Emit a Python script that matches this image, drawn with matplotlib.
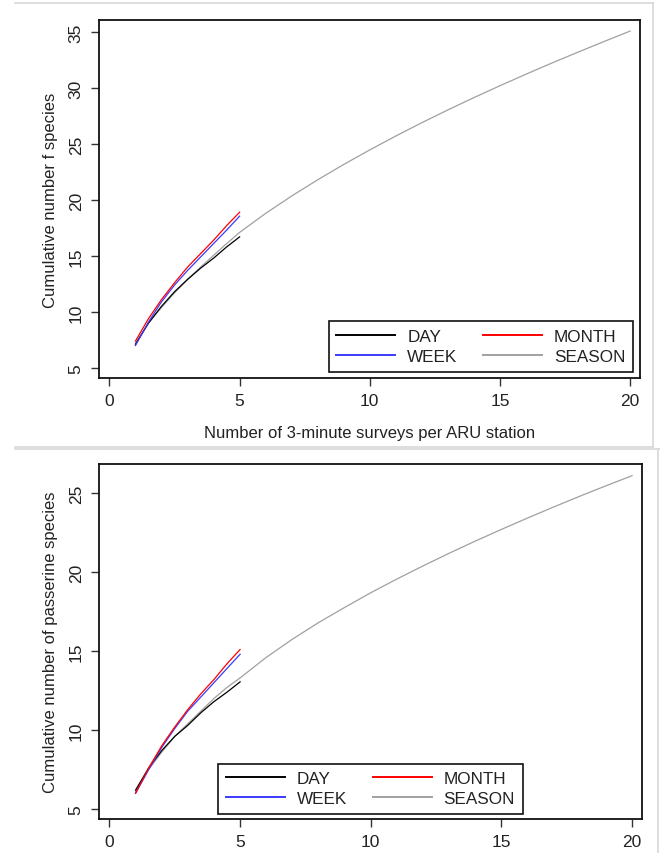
import matplotlib
matplotlib.use("Agg")
import matplotlib.pyplot as plt
from matplotlib.lines import Line2D

plt.rcParams['font.family'] = ['Liberation Sans', 'DejaVu Sans']

# ---------------- data ----------------
x_short = [1, 1.5, 2, 2.5, 3, 3.5, 4, 4.5, 5]
x_season = [1, 1.5, 2, 2.5, 3, 3.5, 4, 4.5, 5, 6, 7, 8, 9, 10, 11, 12, 13, 14,
            15, 16, 17, 18, 19, 20]

# Top panel: all species
top_day = [7.1, 9.0, 10.5, 11.8, 12.9, 13.9, 14.8, 15.8, 16.7]
top_week = [7.0, 9.1, 10.9, 12.4, 13.7, 14.9, 16.1, 17.3, 18.55]
top_month = [7.4, 9.4, 11.1, 12.6, 14.0, 15.2, 16.4, 17.7, 18.9]
top_season = [7.2, 9.0, 10.4, 11.7, 12.9, 14.0, 15.05, 16.1, 17.1, 18.8, 20.35,
              21.8, 23.17, 24.47, 25.71, 26.9, 28.04, 29.14, 30.2, 31.23,
              32.23, 33.2, 34.15, 35.08]

# Bottom panel: passerine species
bot_day = [6.2, 7.6, 8.7, 9.6, 10.3, 11.1, 11.8, 12.4, 13.05]
bot_week = [6.0, 7.5, 8.9, 10.1, 11.2, 12.1, 13.0, 13.9, 14.8]
bot_month = [6.0, 7.6, 9.0, 10.2, 11.3, 12.3, 13.2, 14.2, 15.1]
bot_season = [6.1, 7.5, 8.6, 9.6, 10.4, 11.2, 12.0, 12.7, 13.3, 14.6, 15.75,
              16.8, 17.76, 18.69, 19.56, 20.39, 21.19, 21.96, 22.7, 23.42,
              24.12, 24.8, 25.46, 26.1]

labels = ["DAY", "WEEK", "MONTH", "SEASON"]
colors = ["#000000", "#3a3aff", "#ff0000", "#a0a0a0"]
x_ticks = [0, 5, 10, 15, 20]
top_yticks = [5, 10, 15, 20, 25, 30, 35]
bot_yticks = [5, 10, 15, 20, 25]

W, H = 660, 854
fig = plt.figure(figsize=(W / 100, H / 100), dpi=100)


def px_axes(l, t, r, b):
    return fig.add_axes([l / W, 1 - b / H, (r - l) / W, (b - t) / H])


def style(ax, yticks, ylim):
    ax.set_xlim(-0.4, 20.38)
    ax.set_ylim(*ylim)
    ax.set_xticks(x_ticks)
    ax.set_yticks(yticks)
    for s in ax.spines.values():
        s.set_linewidth(1.3)
        s.set_color("#111111")
    ax.tick_params(direction="out", length=6, width=1, color="#333333",
                   labelsize=12.5, pad=5, labelcolor="#222222")
    for lab in ax.get_yticklabels():
        lab.set_rotation(90)
        lab.set_va("center")


def draw(ax, series):
    handles = []
    for (xs, ys), lab, c in zip(series, labels, colors):
        h, = ax.plot(xs, ys, color=c, lw=0.9, label=lab)
        handles.append(h)
    handles[3].set_zorder(1)
    return handles


def add_legend(ax, handles, loc, anchor):
    leg = ax.legend(handles=handles, ncol=2, loc=loc, bbox_to_anchor=anchor,
                    borderaxespad=0, fontsize=12.3, handlelength=3.45,
                    handletextpad=0.7, columnspacing=1.5, labelspacing=0.3,
                    borderpad=0.45, fancybox=False, framealpha=1,
                    edgecolor="#111111")
    leg.get_frame().set_linewidth(1.2)
    for l in leg.get_lines():
        l.set_linewidth(1.4)
    for t in leg.get_texts():
        t.set_color("#222222")
    return leg


# ---------- top panel ----------
ax1 = px_axes(99, 21, 640, 379)
h1 = draw(ax1, [(x_short, top_day), (x_short, top_week),
                (x_short, top_month), (x_season, top_season)])
style(ax1, top_yticks, (4.1, 36.07))
ax1.set_ylabel("Cumulative number f species", fontsize=12, labelpad=8,
               color="#222222")
ax1.set_xlabel("Number of 3-minute surveys per ARU station", fontsize=12,
               labelpad=12, color="#222222")
add_legend(ax1, h1, "lower right", (0.987, 0.017))

# ---------- bottom panel ----------
ax2 = px_axes(99, 465, 642, 820)
h2 = draw(ax2, [(x_short, bot_day), (x_short, bot_week),
                (x_short, bot_month), (x_season, bot_season)])
style(ax2, bot_yticks, (4.37, 26.84))
ax2.set_ylabel("Cumulative number of passerine species", fontsize=12,
               labelpad=8, color="#222222")
add_legend(ax2, h2, "lower center", (0.5, 0.014))

# ---------- screenshot borders ----------
def fline(x0, y0, x1, y1):
    fig.add_artist(Line2D([x0 / W, x1 / W], [1 - y0 / H, 1 - y1 / H],
                          color="#d8d8d8", lw=1.2))

fline(15, 4, 653, 4)
fline(653, 4, 653, 448)
fline(15, 448, 653, 448)
fline(15, 450, 660, 450)
fline(658, 450, 658, 854)

fig.savefig("out.png", dpi=100)
